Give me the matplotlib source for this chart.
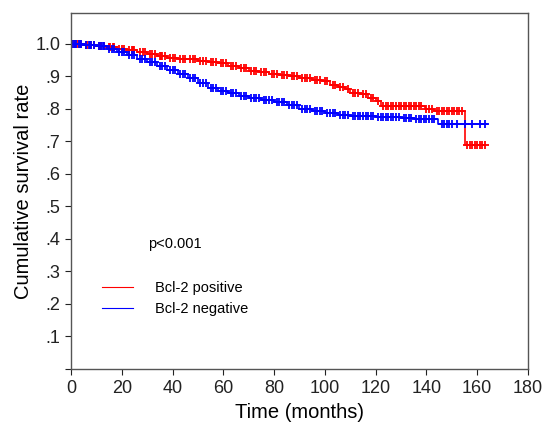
import matplotlib
matplotlib.use("Agg")
import numpy as np
import matplotlib.pyplot as plt
from matplotlib.lines import Line2D

plt.rcParams['font.family'] = ['Liberation Sans', 'DejaVu Sans']

# Kaplan-Meier step points (time in months, cumulative survival after the step)
pos_times = [0, 5, 10, 14, 18, 22, 26, 30, 34, 38, 42, 46, 50, 54, 58, 62, 66, 70,
             74, 78, 82, 86, 90, 95, 99, 102, 105, 108, 110, 114, 117, 120, 122,
             139.5, 143, 155]
pos_surv = [1.0, 0.998, 0.995, 0.99, 0.985, 0.98, 0.975, 0.968, 0.962, 0.958, 0.955,
            0.952, 0.948, 0.945, 0.94, 0.932, 0.925, 0.918, 0.913, 0.908, 0.905, 0.9,
            0.895, 0.89, 0.885, 0.875, 0.868, 0.86, 0.85, 0.845, 0.835, 0.825, 0.81,
            0.80, 0.794, 0.689]
pos_end = 163

neg_times = [0, 5, 10, 14, 18, 22, 26, 30, 34, 38, 42, 46, 50, 54, 58, 62, 66, 70,
             75, 80, 85, 90, 95, 100, 105, 110, 120, 130, 135, 144.5]
neg_surv = [1.0, 0.998, 0.993, 0.985, 0.975, 0.965, 0.955, 0.945, 0.932, 0.92, 0.908,
            0.895, 0.88, 0.865, 0.855, 0.848, 0.84, 0.835, 0.828, 0.82, 0.812, 0.8,
            0.793, 0.787, 0.782, 0.778, 0.775, 0.772, 0.768, 0.754]
neg_end = 164

# censored observations (months)
pos_censor = [0.5, 1, 1.5, 2.5, 3, 3.5, 4, 6, 6.5, 7.5, 8, 9, 11, 11.5, 12, 13, 15,
              15.5, 16.5, 17, 19, 20, 21, 23, 24, 24.5, 25, 27, 28.5, 29, 31, 32, 33,
              35, 35.5, 36, 37, 39, 40, 41, 43, 44, 45, 47, 48, 49, 51, 52, 53, 55,
              56, 57, 59, 60, 61, 63, 64, 65, 67, 68, 69, 71, 72, 73, 75, 76, 77, 79,
              80, 81, 83, 84, 85, 87, 88, 89, 91, 92, 93, 94, 96, 97, 98, 100, 101,
              103, 104, 106, 107, 109, 111, 112, 113, 115, 116, 118, 119, 121, 123,
              124, 125, 126, 127, 128, 129, 130, 131, 132, 133, 134, 135, 136, 137,
              138, 140, 141, 142, 144, 145, 146, 147, 148, 149, 150, 151, 152, 153,
              154, 156, 157, 158, 159, 160, 161, 162, 163]
neg_censor = [0.5, 1, 1.5, 2, 3, 3.5, 4, 6, 7, 7.5, 8, 9, 11, 12, 12.5, 13, 15, 16,
              17, 19, 20, 21, 23, 24, 25, 27, 28, 29, 31, 32, 33, 35, 36, 37, 39, 40,
              41, 43, 44, 45, 47, 48, 49, 51, 52, 53, 55, 56, 57, 59, 60, 61, 63, 64,
              65, 67, 68, 69, 71, 72, 73, 74, 76, 77, 78, 79, 81, 82, 83, 84, 86, 87,
              88, 89, 91, 92, 93, 94, 96, 97, 98, 99, 101, 102, 103, 104, 106, 107,
              108, 109, 111, 112, 113, 114, 115, 116, 117, 118, 119, 121, 122, 123,
              124, 125, 126, 127, 128, 129, 131, 132, 133, 134, 136, 137, 138, 139,
              140, 141, 142, 143, 146, 147, 148, 149, 150, 152, 155, 158, 161, 163]

x_ticks = [0, 20, 40, 60, 80, 100, 120, 140, 160, 180]
y_ticks = [0.1, 0.2, 0.3, 0.4, 0.5, 0.6, 0.7, 0.8, 0.9, 1.0]
y_labels = ['.1', '.2', '.3', '.4', '.5', '.6', '.7', '.8', '.9', '1.0']


def draw_km(ax, times, surv, end, censor, color):
    t = list(times) + [end]
    s = list(surv) + [surv[-1]]
    ax.step(t, s, where='post', color=color, lw=1.2)
    idx = np.searchsorted(times, censor, side='right') - 1
    cy = np.array(surv)[idx]
    ax.plot(censor, cy, ls='none', marker='+', ms=6, mew=1.3, color=color)


fig = plt.figure(figsize=(5.44, 4.28), dpi=100)
ax = fig.add_axes([0.1305, 0.1379, 0.8401, 0.8317])

draw_km(ax, pos_times, pos_surv, pos_end, pos_censor, '#ff0000')
draw_km(ax, neg_times, neg_surv, neg_end, neg_censor, '#0000ff')

ax.set_xlim(0, 180)
ax.set_ylim(0, 1.095)
ax.set_xticks(x_ticks)
ax.set_yticks([0] + y_ticks)
ax.set_yticklabels([''] + y_labels)
ax.tick_params(direction='out', length=4, width=0.8, labelsize=13, colors='#222222')
ax.tick_params(axis='x', pad=4)
for sp in ax.spines.values():
    sp.set_color('#555555')
    sp.set_linewidth(1.0)

ax.set_xlabel('Time (months)', fontsize=14.5, labelpad=4)
ax.set_ylabel('Cumulative survival rate', fontsize=14.5, labelpad=2)

ax.text(0.169, 0.352, 'p<0.001', transform=ax.transAxes, fontsize=10.5,
        va='center', ha='left')

handles = [Line2D([], [], color='#ff0000', lw=0.8),
           Line2D([], [], color='#0000ff', lw=0.8)]
ax.legend(handles, ['Bcl-2 positive', 'Bcl-2 negative'], loc='upper left',
          bbox_to_anchor=(0.04, 0.285), frameon=False, fontsize=10.5,
          handlelength=2.1, handletextpad=1.5, labelspacing=0.5)

fig.savefig('out.png', dpi=100)
